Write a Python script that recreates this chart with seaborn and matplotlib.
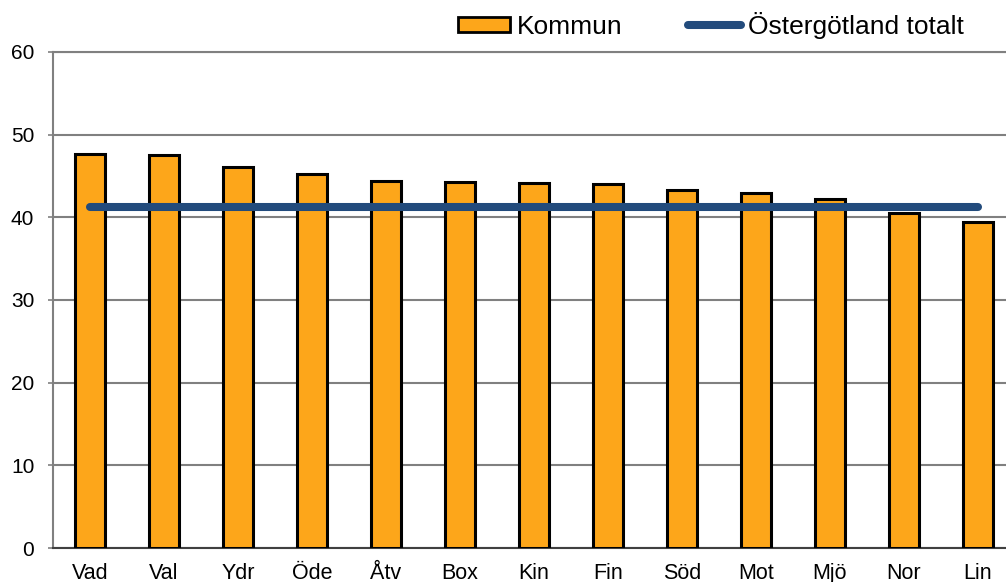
import numpy as np
import matplotlib
matplotlib.use("Agg")
import matplotlib.pyplot as plt
import seaborn as sns
from matplotlib.patches import Patch
from matplotlib.lines import Line2D

# data
kommuner = ["Vad", "Val", "Ydr", "Öde", "Åtv", "Box", "Kin", "Fin", "Söd", "Mot", "Mjö", "Nor", "Lin"]
kommun_values = [47.6, 47.5, 46.1, 45.2, 44.4, 44.3, 44.2, 44.0, 43.3, 43.0, 42.2, 40.5, 39.4]
ostergotland_total = 41.2
y_ticks = [0, 10, 20, 30, 40, 50, 60]

sns.set_style("white")
plt.rcParams['font.family'] = ['Liberation Sans', 'DejaVu Sans']
plt.rcParams['text.color'] = 'black'

bar_color = "#FDA61A"
line_color = "#224B7C"

fig = plt.figure(figsize=(10.06, 5.82), dpi=100)
ax = fig.add_axes([0.0527, 0.0584, 0.956, 0.8523])

sns.barplot(x=kommuner, y=kommun_values, color=bar_color, edgecolor="black",
            linewidth=2.2, width=0.4, saturation=1, ax=ax, zorder=3)

# line for the county total, drawn across all categories
xs = np.arange(len(kommuner))
ax.plot(xs, [ostergotland_total] * len(xs), color=line_color, lw=5.8,
        solid_capstyle="round", zorder=4)

ax.set_xlim(-0.5, len(kommuner) - 0.5)
ax.set_ylim(0, 60)
ax.set_yticks(y_ticks)
ax.yaxis.grid(True, color="#808080", lw=1.5, zorder=0)
ax.set_axisbelow(True)
ax.tick_params(axis="y", length=3.5, width=1.2, color="#808080", labelcolor="black",
               labelsize=15, pad=10, left=True)
ax.tick_params(axis="x", length=0, labelcolor="black", labelsize=15.5, pad=11)
for s in ["top", "left", "right"]:
    ax.spines[s].set_color("#808080")
    ax.spines[s].set_linewidth(1.5)
ax.spines["bottom"].set_color("#404040")
ax.spines["bottom"].set_linewidth(1.5)

handles = [Patch(facecolor=bar_color, edgecolor="black", linewidth=2),
           Line2D([0], [0], color=line_color, lw=5.8, solid_capstyle="round")]
fig.legend(handles, ["Kommun", "Östergötland totalt"], ncol=2, frameon=False,
           loc="center right", bbox_to_anchor=(0.958, 0.957), fontsize=19,
           borderpad=0, borderaxespad=0, handlelength=2.0, handleheight=0.5,
           handletextpad=0.25, columnspacing=2.5, labelcolor="black")

fig.savefig("out.png", dpi=100)
